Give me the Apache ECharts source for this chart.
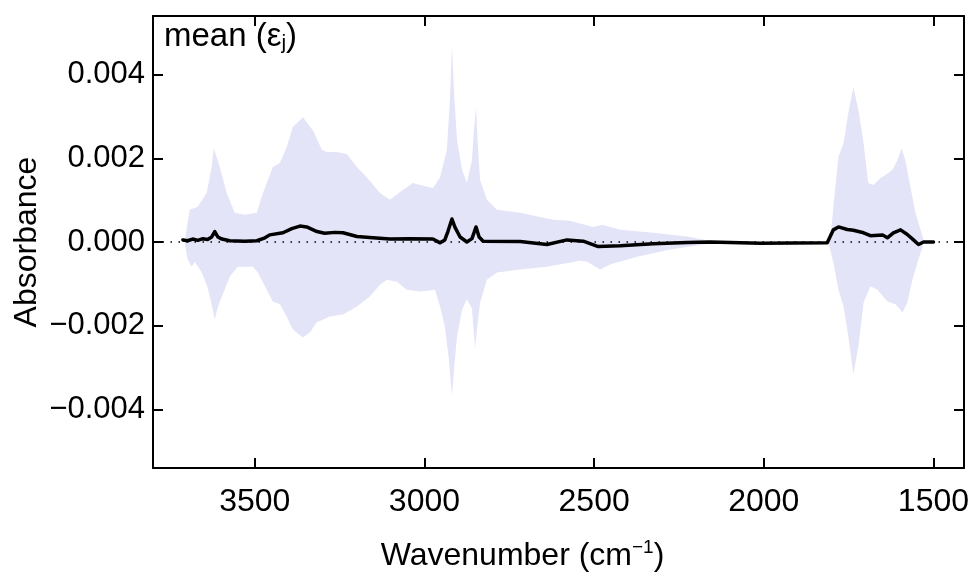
<!DOCTYPE html>
<html>
<head>
<meta charset="utf-8">
<script src="https://cdn.jsdelivr.net/npm/echarts@6/dist/echarts.min.js"></script>
<style>html,body{margin:0;padding:0;background:#fff}#c{width:973px;height:578px}</style>
</head>
<body>
<div id="c"></div>
<script>
// x tick labels / y tick labels
const xTicks = [3500, 3000, 2500, 2000, 1500];
const yTicks = [-0.004, -0.002, 0, 0.002, 0.004];

// upper envelope of the spread band
const upperWn = [3706,3692,3668,3642,3627,3621,3603,3583,3559,3530,3494,3476,3447,3426,3406,3388,3358,3329,3302,3288,3258,3229,3199,3170,3131,3102,3063,3034,3013,2975,2954,2934,2925,2919,2913,2904,2889,2875,2860,2854,2848,2842,2836,2816,2786,2718,2621,2571,2503,2476,2423,2326,2226,2158,2128,2000,1810,1804,1795,1780,1765,1751,1736,1721,1706,1692,1677,1656,1642,1621,1606,1594,1583,1568,1553,1538,1529,1524];
const upperAbs = [0.00005,0.00077,0.00084,0.00117,0.00179,0.00224,0.00179,0.00117,0.00070,0.00065,0.00070,0.00117,0.00179,0.00189,0.00227,0.00275,0.00298,0.00267,0.00220,0.00215,0.00215,0.00210,0.00179,0.00155,0.00117,0.00101,0.00125,0.00141,0.00136,0.00129,0.00155,0.00220,0.00340,0.00469,0.00360,0.00244,0.00172,0.00141,0.00196,0.00270,0.00322,0.00220,0.00148,0.00101,0.00077,0.00070,0.00053,0.00051,0.00036,0.00041,0.00029,0.00022,0.00013,0.00003,0,0,0,0.00005,0.00084,0.00203,0.00236,0.00308,0.00370,0.00315,0.00236,0.00141,0.00136,0.00153,0.00160,0.00172,0.00196,0.00224,0.00196,0.00132,0.00070,0.00029,0.00005,0];

// lower envelope of the spread band
const lowerWn = [3706,3698,3686,3677,3656,3639,3627,3618,3609,3597,3574,3550,3506,3491,3465,3447,3426,3406,3388,3358,3338,3317,3279,3240,3199,3161,3131,3111,3081,3052,3013,2969,2954,2940,2928,2919,2913,2904,2889,2875,2860,2851,2842,2836,2816,2786,2718,2639,2541,2521,2482,2453,2373,2276,2178,2149,2128,2000,1810,1795,1780,1765,1751,1736,1721,1706,1686,1665,1636,1612,1591,1577,1562,1547,1535,1529,1524];
const lowerAbs = [-0.00006,-0.00042,-0.00059,-0.00047,-0.00073,-0.00109,-0.00150,-0.00185,-0.00156,-0.00130,-0.00083,-0.00059,-0.00059,-0.00073,-0.00114,-0.00142,-0.00149,-0.00178,-0.00209,-0.00228,-0.00216,-0.00192,-0.00178,-0.00173,-0.00154,-0.00130,-0.00102,-0.00090,-0.00095,-0.00114,-0.00118,-0.00114,-0.00154,-0.00202,-0.00280,-0.00368,-0.00304,-0.00225,-0.00161,-0.00137,-0.00159,-0.00254,-0.00185,-0.00145,-0.00090,-0.00073,-0.00066,-0.00059,-0.00045,-0.00047,-0.00066,-0.00054,-0.00035,-0.00018,-0.00006,-0.00002,0,0,0,-0.00049,-0.00114,-0.00154,-0.00225,-0.00316,-0.00249,-0.00145,-0.00106,-0.00114,-0.00142,-0.00149,-0.00168,-0.00145,-0.00090,-0.00049,-0.00018,0,0];

// mean(eps_j)
const meanWn = [3712,3698,3683,3668,3653,3639,3627,3618,3609,3597,3574,3530,3494,3470,3456,3417,3391,3367,3347,3317,3294,3264,3240,3199,3152,3102,3043,2975,2954,2940,2931,2919,2910,2895,2875,2860,2848,2839,2827,2718,2639,2580,2532,2488,2423,2326,2226,2158,2010,1813,1795,1780,1754,1736,1706,1686,1650,1636,1618,1597,1577,1559,1544,1529,1500];
const meanAbs = [0.00005,0.00003,0.00007,0.00004,0.00008,0.00006,0.00012,0.00025,0.00012,0.00007,0.00003,0.00002,0.00003,0.00010,0.00017,0.00022,0.00032,0.00038,0.00036,0.00025,0.00021,0.00023,0.00022,0.00013,0.00010,0.00007,0.00008,0.00007,-0.00002,0.00005,0.00025,0.00055,0.00035,0.00012,0.00000,0.00008,0.00036,0.00012,0.00002,0.00001,-0.00006,0.00005,0.00002,-0.00011,-0.00009,-0.00004,-0.00001,0.00000,-0.00003,-0.00002,0.00029,0.00036,0.00030,0.00028,0.00022,0.00015,0.00017,0.00010,0.00022,0.00029,0.00018,0.00005,-0.00006,0.00000,0.00000];

const pairs = (xs, ys) => xs.map((x, i) => [x, ys[i]]);
const FONT = '"Liberation Sans", Arial, Helvetica, sans-serif';
const BAND = '#e4e4f8';
const fmtY = v => Math.abs(v) < 1e-12 ? '0.000' : (v < 0 ? '\u2212' : '') + Math.abs(v).toFixed(3);
const fmtX = v => String(Math.round(v));

const axisLine = { show: true, onZero: false, lineStyle: { color: '#000', width: 2 } };
const tick = (vals) => ({ show: true, inside: true, length: 10, customValues: vals, lineStyle: { color: '#000', width: 2 } });

const xBase = { type: 'value', inverse: true, min: 1410, max: 3800, splitLine: { show: false }, axisLine };
const yBase = { type: 'value', min: -0.0054, max: 0.0054, splitLine: { show: false }, axisLine };

const chart = echarts.init(document.getElementById('c'), null, { renderer: 'canvas' });
chart.setOption({
  animation: false,
  textStyle: { fontFamily: FONT },
  grid: { left: 153, right: 9, top: 16, bottom: 110, containLabel: false, outerBoundsMode: 'none' },
  title: {
    left: 159, top: 14,
    text: 'mean (\u03b5{sub|j})',
    textStyle: {
      fontFamily: FONT, fontSize: 33, fontWeight: 'normal', color: '#000',
      rich: { sub: { fontFamily: FONT, fontSize: 21, color: '#000', padding: [14, 0, 0, 0] } }
    }
  },
  xAxis: [
    Object.assign({}, xBase, {
      position: 'bottom',
      axisTick: tick(xTicks),
      axisLabel: { show: true, customValues: xTicks, formatter: fmtX, color: '#000', fontSize: 32, fontFamily: FONT, margin: 18 },
      name: 'Wavenumber (cm{sup|\u22121})',
      nameLocation: 'middle', nameGap: 70,
      nameTextStyle: {
        color: '#000', fontSize: 32, fontFamily: FONT, padding: [0, 72, 0, 0],
        rich: { sup: { fontSize: 19, color: '#000', fontFamily: FONT, padding: [0, 0, 17, 0] } }
      }
    }),
    Object.assign({}, xBase, {
      position: 'top',
      axisTick: tick(xTicks),
      axisLabel: { show: false }
    })
  ],
  yAxis: [
    Object.assign({}, yBase, {
      position: 'left',
      axisTick: tick(yTicks),
      axisLabel: { show: true, customValues: yTicks, formatter: fmtY, color: '#000', fontSize: 31, fontFamily: FONT, margin: 8 },
      name: 'Absorbance', nameLocation: 'middle', nameGap: 110, nameRotate: 90, nameMoveOverlap: false,
      nameTextStyle: { color: '#000', fontSize: 32, fontFamily: FONT }
    }),
    Object.assign({}, yBase, {
      position: 'right',
      axisTick: tick(yTicks),
      axisLabel: { show: false }
    })
  ],
  series: [
    {
      type: 'line', data: pairs(upperWn, upperAbs), showSymbol: false, symbol: 'none',
      lineStyle: { width: 0, opacity: 0 }, areaStyle: { color: BAND, opacity: 1 }, z: 1, silent: true
    },
    {
      type: 'line', data: pairs(lowerWn, lowerAbs), showSymbol: false, symbol: 'none',
      lineStyle: { width: 0, opacity: 0 }, areaStyle: { color: BAND, opacity: 1 }, z: 1, silent: true
    },
    {
      type: 'line', data: pairs(meanWn, meanAbs), showSymbol: false, symbol: 'none',
      lineStyle: { color: '#000', width: 3.5, join: 'round', cap: 'round' }, z: 3,
      markLine: {
        silent: true, symbol: 'none', label: { show: false },
        lineStyle: { color: '#000', width: 1.5, type: [1.5, 6.5] },
        data: [{ yAxis: 0 }], z: 2
      }
    }
  ]
});
</script>
</body>
</html>
